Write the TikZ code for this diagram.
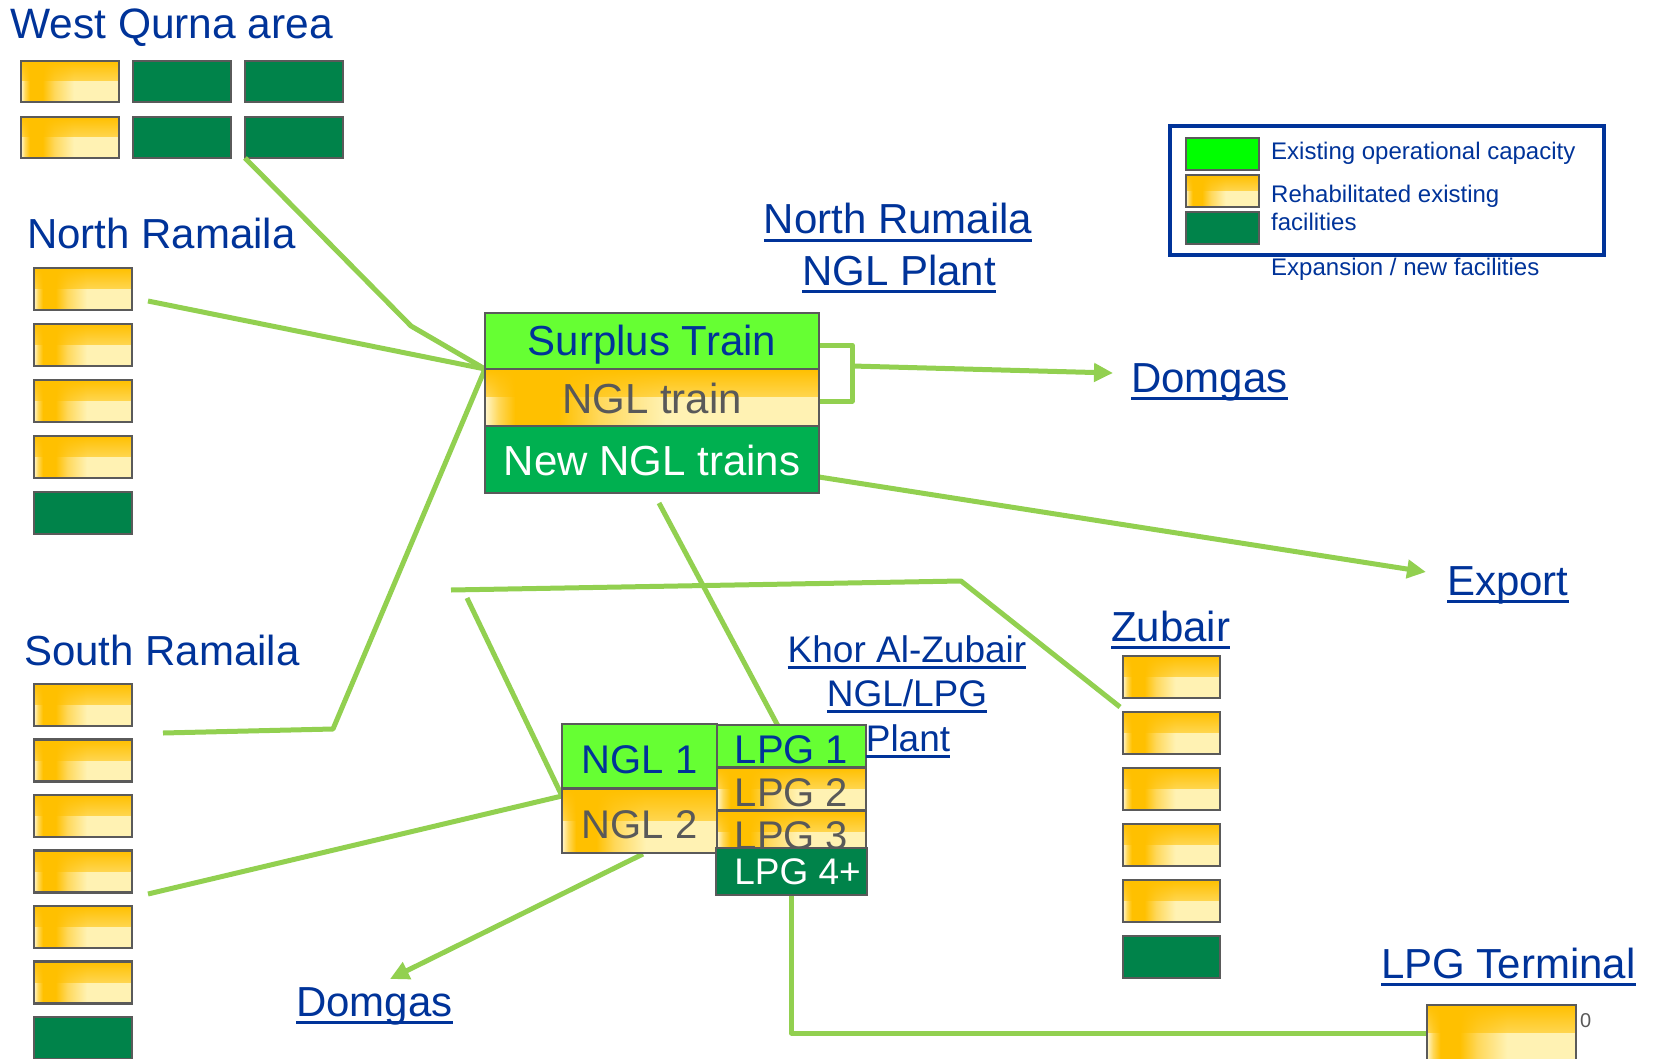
\documentclass[tikz,border=0pt]{standalone}
\usepackage{fontspec}
\setmainfont{Liberation Sans}
\usetikzlibrary{arrows.meta,fadings,calc}
\definecolor{tblue}{HTML}{003399}
\definecolor{tgray}{HTML}{595959}
\definecolor{bgray}{HTML}{5A5A5A}
\definecolor{lgreen}{HTML}{92D050}
\definecolor{bgreen}{HTML}{66FF33}
\definecolor{mgreen}{HTML}{00B050}
\definecolor{dgreen}{HTML}{00834A}
\definecolor{legreen}{HTML}{00FF00}
\definecolor{yor}{HTML}{FFC000}
\definecolor{ymid}{HTML}{FFD85A}
\definecolor{ypale}{HTML}{FFF2B3}
\definecolor{ylight}{HTML}{FFF6CC}
\pgfdeclarehorizontalshading{yh}{100bp}{color(0bp)=(ylight); color(25bp)=(ylight); color(27bp)=(ymid); color(29.5bp)=(yor); color(36bp)=(yor); color(42bp)=(ymid); color(52bp)=(ypale); color(100bp)=(ypale)}
\tikzfading[name=topband, top color=transparent!0, bottom color=transparent!100, middle color=transparent!45]
\newcommand\ulin[1]{\setbox0=\hbox{#1}\rlap{\rule[-0.19em]{\wd0}{0.075em}}\box0}
\begin{document}
\begin{tikzpicture}[x=1pt,y=-1pt,
  box/.style={draw=bgray, line width=2.5pt, inner sep=0pt, outer sep=0pt},
  ybox/.style={box, shade, shading=yh, path picture={\fill[yor, path fading=topband] (path picture bounding box.north west) rectangle ($(path picture bounding box.north east)!0.5!(path picture bounding box.south east)$);}},
  gbox/.style={box, fill=dgreen},
  sbox/.style={minimum width=98pt, minimum height=42pt},
  conn/.style={draw=lgreen, line width=5pt, line join=round},
  arr/.style={conn, -{Triangle[length=19pt,width=18pt]}},
  big/.style={font=\fontsize{42pt}{48pt}\selectfont, text=tblue, inner sep=0pt},
  mid/.style={font=\fontsize{40pt}{46pt}\selectfont, inner sep=0pt, text height=34pt, text depth=0pt},
  kz/.style={font=\fontsize{37pt}{44pt}\selectfont, text=tblue, inner sep=0pt, anchor=base},
  leg/.style={font=\fontsize{24pt}{28pt}\selectfont, text=tblue, inner sep=0pt, anchor=base west}]
\useasboundingbox (0,0) rectangle (1653,1059);
\clip (0,0) rectangle (1653,1059);

% ---- connector coordinates
\coordinate (wqk) at (411,326);
\coordinate (cv) at (485,369);
\coordinate (nrs) at (148,301);
\coordinate (srs) at (163,733);
\coordinate (srk) at (333,729);
\coordinate (sr2) at (148,894);
\coordinate (ngc) at (562,796);
\coordinate (hs) at (451,590);
\coordinate (hk) at (961,581);
\coordinate (zbe) at (1120,707);
\coordinate (ngs) at (467,598);
\coordinate (mbs) at (659,503);
\coordinate (lpe) at (778,726);
\coordinate (bkt) at (819,345);
\coordinate (bkb) at (819,401);
\coordinate (bk) at (852,366);
\coordinate (tipD1) at (1113,373);
\coordinate (exs) at (819,477);
\coordinate (tipEx) at (1426,572);
\coordinate (n2s) at (643,854);
\coordinate (tipD2) at (390,979);
\coordinate (ltd) at (791.5,895);
\coordinate (lte) at (1427,1033);

% West Qurna boxes
\node[ybox, sbox, minimum height=41pt] (wq1) at (70,81.5) {};
\node[gbox, sbox, minimum height=41pt] (wq2) at (182,81.5) {};
\node[gbox, sbox, minimum height=41pt] (wq3) at (294,81.5) {};
\node[ybox, sbox, minimum height=41pt] (wq4) at (70,137.5) {};
\node[gbox, sbox, minimum height=41pt] (wq5) at (182,137.5) {};
\node[gbox, sbox, minimum height=41pt] (wq6) at (294,137.5) {};

% connectors
\draw[conn] (wq6.south west) -- (wqk) -- (cv);
\draw[conn] (nrs) -- (cv);
\draw[conn] (srs) -- (srk) -- (cv);
\draw[conn] (sr2) -- (ngc);
\draw[conn] (hs) -- (hk) -- (zbe);
\draw[conn] (ngs) -- (ngc);
\draw[conn] (mbs) -- (lpe);
\draw[conn] (bkt) -| (bk) |- (bkb);
\draw[arr] (bk) -- (tipD1);
\draw[arr] (exs) -- (tipEx);
\draw[arr] (n2s) -- (tipD2);
\draw[conn] (ltd) |- (lte);

% North Ramaila boxes
\node[ybox, sbox] (nr1) at (83,289) {};
\node[ybox, sbox] (nr2) at (83,345) {};
\node[ybox, sbox] (nr3) at (83,401) {};
\node[ybox, sbox] (nr4) at (83,457) {};
\node[gbox, sbox] (nr5) at (83,513) {};

% South Ramaila boxes
\node[ybox, sbox] (sr1) at (83,705) {};
\node[ybox, sbox] (sr2b) at (83,760.5) {};
\node[ybox, sbox] (sr3) at (83,816) {};
\node[ybox, sbox] (sr4) at (83,871.5) {};
\node[ybox, sbox] (sr5) at (83,927) {};
\node[ybox, sbox] (sr6) at (83,982.5) {};
\node[gbox, sbox] (sr7) at (83,1038) {};

% Zubair boxes
\node[ybox, sbox, minimum width=97pt] (zb1) at (1171.5,677) {};
\node[ybox, sbox, minimum width=97pt] (zb2) at (1171.5,733) {};
\node[ybox, sbox, minimum width=97pt] (zb3) at (1171.5,789) {};
\node[ybox, sbox, minimum width=97pt] (zb4) at (1171.5,845) {};
\node[ybox, sbox, minimum width=97pt] (zb5) at (1171.5,901) {};
\node[gbox, sbox, minimum width=97pt] (zb6) at (1171.5,957) {};

% North Rumaila plant
\node[box, fill=bgreen, minimum width=334pt, minimum height=56pt, big, text height=28pt, text depth=0pt] (surplus) at (652,341) {Surplus Train};
\node[ybox, minimum width=334pt, minimum height=57pt, big, text height=31pt, text depth=0pt, text=tgray] (ngltrain) at (652,397.5) {NGL train};
\node[box, fill=mgreen, minimum width=334pt, minimum height=67pt, big, text height=31pt, text depth=0pt, text=white] (newngl) at (652,459.5) {New NGL trains};

% Khor Al-Zubair plant
\node[box, fill=bgreen, minimum width=155pt, minimum height=64pt, mid, text=tblue] (ngl1) at (639.5,756) {NGL 1};
\node[ybox, minimum width=155pt, minimum height=64pt, mid, text=tgray] (ngl2) at (639.5,821) {NGL 2};
\node[box, fill=bgreen, minimum width=149pt, minimum height=42pt, mid, text=tblue] (lpg1) at (791.5,746) {LPG 1};
\node[ybox, minimum width=149pt, minimum height=42pt, mid, text=tgray] (lpg2) at (791.5,789) {LPG 2};
\node[ybox, minimum width=149pt, minimum height=42pt, mid, text=tgray] (lpg3) at (791.5,832) {LPG 3};
\node[box, fill=dgreen, minimum width=151pt, minimum height=47pt, font=\fontsize{37pt}{42pt}\selectfont, text=white] (lpg4) at (791.5,871.5) {\hspace*{12pt}LPG 4+};

% LPG terminal box
\node[ybox, minimum width=149pt, minimum height=56pt] (term) at (1501.5,1033) {};
\node[font=\fontsize{20pt}{24pt}\selectfont, text=tgray, inner sep=0pt, anchor=base west] (zero) at (1580,1027) {0};

% Labels
\node[big, anchor=base west, font=\fontsize{42.5pt}{48pt}\selectfont] (tWQ) at (10,39) {West Qurna area};
\node[big, anchor=base west] (tNR) at (27,249) {North Ramaila};
\node[big, anchor=base west] (tSR) at (24,665) {South Ramaila};
\node[big, anchor=base] (tNRP1) at (898,234) {\ulin{North Rumaila}};
\node[big, anchor=base] (tNRP2) at (899,285) {\ulin{NGL Plant}};
\node[big, anchor=base west] (tD1) at (1131,392) {\ulin{Domgas}};
\node[big, anchor=base west] (tEx) at (1447,595) {\ulin{Export}};
\node[big, anchor=base west] (tZb) at (1111,641) {\ulin{Zubair}};
\node[kz] (tK1) at (907,662) {\ulin{Khor Al-Zubair}};
\node[kz] (tK2) at (907,706) {\ulin{NGL/LPG}};
\node[kz] (tK3) at (908,751) {\ulin{Plant}};
\node[big, anchor=base west] (tLT) at (1381,978) {\ulin{LPG Terminal}};
\node[big, anchor=base west] (tD2) at (296,1016) {\ulin{Domgas}};

% Legend
\node[draw=tblue, line width=3.5pt, minimum width=434pt, minimum height=129pt, inner sep=0pt] (legend) at (1387,190.5) {};
\node[box, fill=legreen, minimum width=73pt, minimum height=32pt] (lg1) at (1222.5,154) {};
\node[ybox, minimum width=73pt, minimum height=32pt] (lg2) at (1222.5,191) {};
\node[gbox, minimum width=73pt, minimum height=32pt] (lg3) at (1222.5,228) {};
\node[leg] (lt1) at (1271,160) {Existing operational capacity};
\node[leg] (lt2) at (1271,203) {Rehabilitated existing};
\node[leg] (lt3) at (1271,231) {facilities};
\node[leg] (lt4) at (1271,275) {Expansion / new facilities};
\end{tikzpicture}
\end{document}
